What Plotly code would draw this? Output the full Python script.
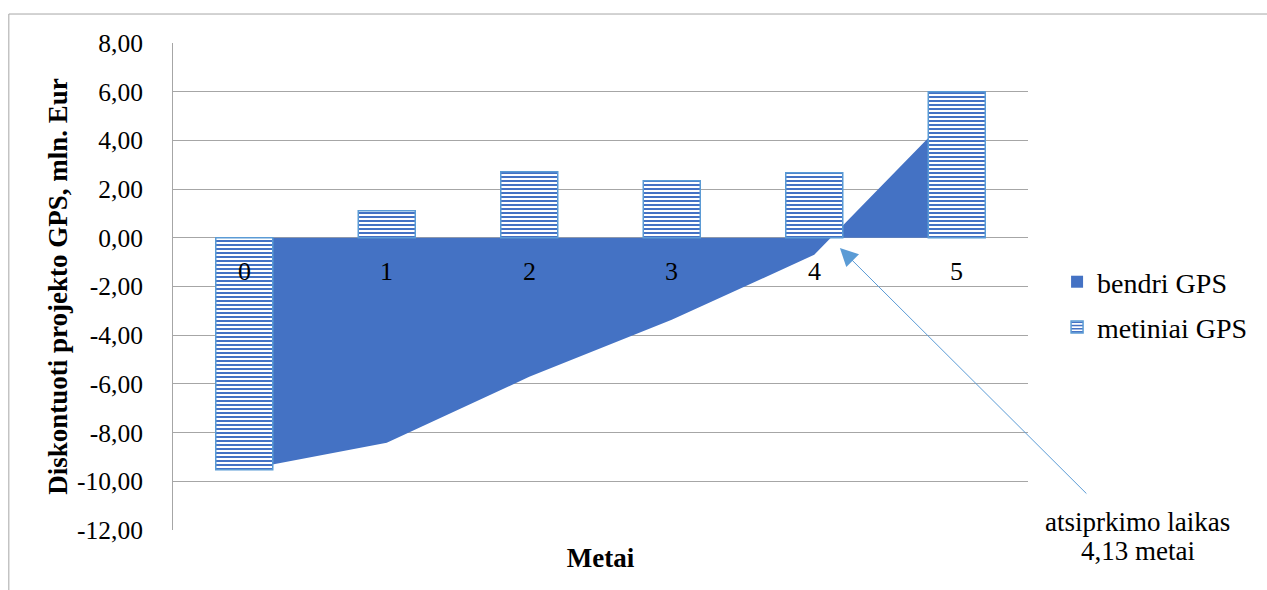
import numpy as np
import plotly.graph_objects as go

# Project years and discounted annual NPV (mln. Eur)
years = [0, 1, 2, 3, 4, 5]
year_labels = ["0", "1", "2", "3", "4", "5"]
annual_npv = [-9.53, 1.11, 2.71, 2.34, 2.67, 6.00]
cumulative_npv = list(np.round(np.cumsum(annual_npv), 2))
payback_years = 4.13
payback_text = ["atsiprkimo laikas", "4,13 metai"]

y_ticks = [-12, -10, -8, -6, -4, -2, 0, 2, 4, 6, 8]
y_tick_text = [f"{v:.2f}".replace(".", ",") for v in y_ticks]
y_range = [-12, 8]
x_range = [-0.5, 5.5]

FONT = "Liberation Serif"
GRID = "#A6A6A6"
DARK_BLUE = "#4472C4"
LIGHT_BLUE = "#5B9BD5"

fig = go.Figure()

# Cumulative NPV as a filled area (base subplot, drawn underneath)
fig.add_trace(go.Scatter(
    x=years, y=cumulative_npv, name="bendri GPS",
    mode="lines", line=dict(width=0, color=DARK_BLUE),
    fill="tozeroy", fillcolor=DARK_BLUE,
    showlegend=False, hoverinfo="skip",
))

# Legend swatch for the area series
fig.add_trace(go.Bar(
    x=[None], y=[None], name="bendri GPS",
    marker=dict(color=DARK_BLUE, line=dict(width=0)),
    xaxis="x2", yaxis="y2", legendgroup="a",
))

# Annual NPV as striped columns on an overlaid axis pair so they sit on top
fig.add_trace(go.Bar(
    x=years, y=annual_npv, name="metiniai GPS", width=0.4,
    marker=dict(
        color="white",
        line=dict(color=LIGHT_BLUE, width=1.5),
        pattern=dict(shape="-", fgcolor=DARK_BLUE, bgcolor="white",
                     size=4, solidity=0.5, fillmode="replace"),
    ),
    xaxis="x2", yaxis="y2", legendgroup="b",
))

# Category labels sitting just under the zero line
for xv, lab in zip(years, year_labels):
    fig.add_annotation(x=xv, y=0, xref="x", yref="y", text=lab,
                       showarrow=False, yanchor="middle", yshift=-34,
                       font=dict(family=FONT, size=26, color="black"))

# Payback time callout: arrow pointing near the zero crossing
head_x, head_y = 4.18, -0.42
fig.add_annotation(
    x=head_x, y=head_y, xref="x", yref="y", text="",
    showarrow=True, arrowhead=2, arrowsize=3.6, arrowwidth=1,
    arrowcolor=LIGHT_BLUE, ax=248, ay=247, standoff=0,
)
for i, line in enumerate(payback_text):
    fig.add_annotation(
        x=head_x, y=head_y, xref="x", yref="y", text=line,
        showarrow=False, xanchor="center", yanchor="middle",
        xshift=298, yshift=-(274 + 29 * i),
        font=dict(family=FONT, size=27, color="black"),
    )

# Outer chart border (top and left edges)
fig.add_shape(type="line", xref="paper", yref="paper",
              x0=-0.192, x1=1.4, y0=1.0595, y1=1.0595,
              line=dict(color=GRID, width=1))
fig.add_shape(type="line", xref="paper", yref="paper",
              x0=-0.192, x1=-0.192, y0=1.0595, y1=-0.2,
              line=dict(color=GRID, width=1))

fig.update_layout(
    width=1267, height=590,
    margin=dict(l=173, r=239, t=43, b=60),
    paper_bgcolor="white", plot_bgcolor="white",
    font=dict(family=FONT, color="black"),
    bargap=0.6, barmode="overlay",
    showlegend=True,
    legend=dict(x=1.034, y=0.463, xanchor="left", yanchor="middle",
                font=dict(family=FONT, size=28, color="black"),
                tracegroupgap=6, bgcolor="rgba(0,0,0,0)"),
    xaxis=dict(range=x_range, showticklabels=False, showgrid=False,
               zeroline=False, showline=False, fixedrange=True,
               title=dict(text="<b>Metai</b>", standoff=18,
                          font=dict(family=FONT, size=27, color="black"))),
    yaxis=dict(range=y_range, tickvals=y_ticks, ticktext=y_tick_text,
               showgrid=True, gridcolor=GRID, gridwidth=1,
               zeroline=True, zerolinecolor=GRID, zerolinewidth=1,
               showline=True, linecolor=GRID, linewidth=1,
               ticks="", ticklabelstandoff=24,
               tickfont=dict(family=FONT, size=25.5, color="black"),
               title=dict(text="<b>Diskontuoti projekto GPS, mln. Eur</b>",
                          standoff=1,
                          font=dict(family=FONT, size=27, color="black"))),
    xaxis2=dict(range=x_range, overlaying="x", visible=False, fixedrange=True),
    yaxis2=dict(range=y_range, overlaying="y", visible=False, fixedrange=True),
)

fig.write_html("out.html")
